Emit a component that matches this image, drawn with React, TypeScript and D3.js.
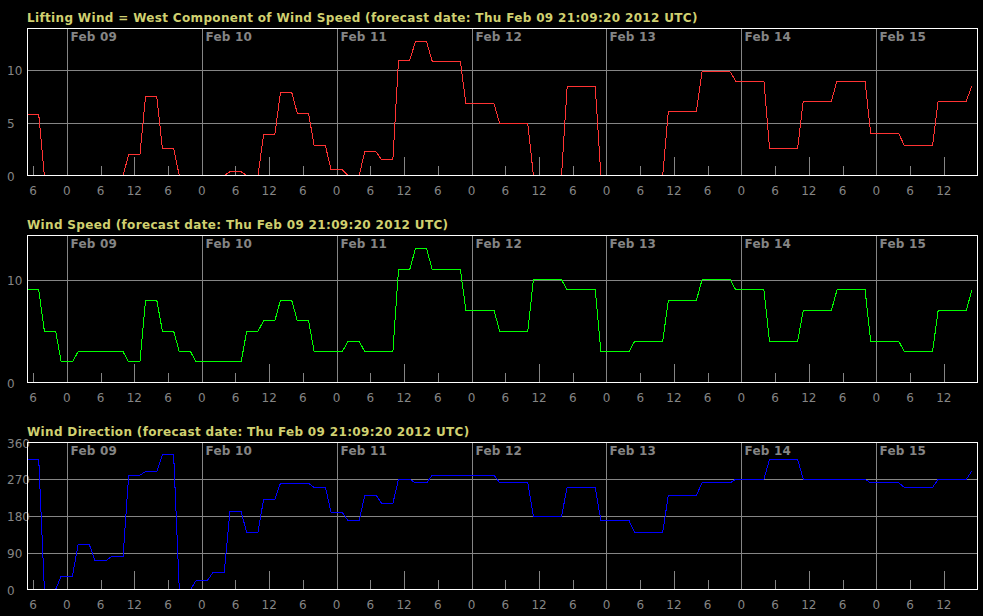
import { useEffect } from "react";
import * as d3 from "d3";

const forecastDate = "Thu Feb 09 21:09:20 2012 UTC";
const startTime = new Date(Date.UTC(2012, 1, 8, 17));
const endTime = new Date(Date.UTC(2012, 1, 15, 18));
const stepHours = 3;

// 3-hourly forecast values, first one at Feb 08 17:00 UTC
const liftWind = [
  5.8, 0, 0, 0, 0, 0, 2, 7.5, 2.55, 0, 0, 0, 0.35, 0, 3.9, 7.9, 5.9, 2.83, 0.54,
  0, 2.26, 1.5, 10.95, 12.7, 10.86, 10.86, 6.8, 6.8, 4.94, 4.94, 0, 0, 8.44,
  8.44, 0, 0, 0, 0, 6.08, 6.08, 9.84, 9.84, 8.98, 8.98, 2.58, 2.58, 7.07, 7.07,
  8.98, 8.98, 3.98, 3.98, 2.83, 2.83, 7.07, 7.07, 8.5,
];
const windSpeed = [
  9, 5, 2, 3, 3, 3, 2, 8, 5, 3, 2, 2, 2, 5, 6, 8, 6, 3, 3, 4, 3, 3, 11, 13, 11,
  11, 7, 7, 5, 5, 10, 10, 9, 9, 3, 3, 4, 4, 8, 8, 10, 10, 9, 9, 4, 4, 7, 7, 9, 9,
  4, 4, 3, 3, 7, 7, 9,
];
const windDirection = [
  319, 0, 33, 110, 71, 81, 280, 289, 330, 0, 22, 42, 190, 140, 221, 260, 260,
  250, 189, 169, 231, 211, 270, 261, 280, 280, 280, 280, 261, 261, 179, 179,
  250, 250, 169, 169, 140, 140, 231, 231, 261, 261, 270, 270, 319, 319, 270,
  270, 270, 270, 261, 261, 250, 250, 270, 270, 290,
];

const liftTicks = [0, 5, 10];
const speedTicks = [0, 10];
const directionTicks = [0, 90, 180, 270, 360];

const W = 983;
const H = 616;
const left = 27.5;
const right = 977.5;
const plotH = 147;
const font = "DejaVu Sans, sans-serif";
const gray = "#858585";

const x = d3.scaleUtc().domain([startTime, endTime]).range([left, right]);
const sixHours = d3.utcHour.every(6)!.range(startTime, endTime);
const midnights = d3.utcDay.range(startTime, endTime);
const fmtDay = d3.utcFormat("%b %d");

const Panel = ({ top, title, values, color, ticks, yMax }: any) => {
  const bottom = top + plotH;
  const y = d3.scaleLinear().domain([0, yMax]).range([bottom, top]);
  const pts: [Date, number][] = [];
  values.forEach((v: number, i: number) => {
    const t0 = d3.utcHour.offset(startTime, i * stepHours);
    pts.push([t0, v]);
    if (i < values.length - 1) pts.push([d3.utcHour.offset(t0, stepHours - 1), v]);
  });
  const line = d3
    .line<[Date, number]>()
    .x((d) => x(d[0]))
    .y((d) => y(d[1]));
  const px = (d: Date) => Math.round(x(d)) + 0.5;

  return (
    <g>
      <text x={27} y={top - 6.5} fill="#d0d070" fontFamily={font} fontWeight="bold" fontSize={12} letterSpacing={0.34}>
        {title}
      </text>
      {ticks
        .filter((t: number) => t > 0 && t < yMax)
        .map((t: number) => (
          <line key={t} x1={left} x2={right} y1={Math.round(y(t)) + 0.5} y2={Math.round(y(t)) + 0.5} stroke={gray} shapeRendering="crispEdges" />
        ))}
      {ticks.map((t: number) => (
        <text key={"l" + t} x={7} y={y(t) + 5} fill={gray} fontFamily={font} fontSize={12}>
          {t}
        </text>
      ))}
      {midnights.map((d) => (
        <g key={+d}>
          <line x1={px(d)} x2={px(d)} y1={top} y2={bottom} stroke={gray} shapeRendering="crispEdges" />
          <text x={px(d) + 3} y={top + 12.5} fill={gray} fontFamily={font} fontWeight="bold" fontSize={12} letterSpacing={0.2}>
            {fmtDay(d)}
          </text>
        </g>
      ))}
      {sixHours.map((d) => {
        const h = d.getUTCHours();
        const len = h === 0 ? 0 : h === 12 ? 19 : 10;
        return (
          <g key={"t" + +d}>
            {len > 0 && (
              <line x1={px(d)} x2={px(d)} y1={bottom} y2={bottom - len} stroke={gray} shapeRendering="crispEdges" />
            )}
            <text x={x(d)} y={bottom + 19.5} fill={gray} fontFamily={font} fontSize={12} textAnchor="middle">
              {h === 12 ? 12 : h % 12}
            </text>
          </g>
        );
      })}
      <path d={line(pts)!} fill="none" stroke={color} strokeWidth={1} shapeRendering="crispEdges" />
      <rect x={left} y={top} width={right - left} height={plotH} fill="none" stroke="#ffffff" shapeRendering="crispEdges" />
    </g>
  );
};

export default function App() {
  useEffect(() => {
    document.body.style.margin = "0";
    document.body.style.background = "#000";
  }, []);

  return (
    <svg width={W} height={H} style={{ display: "block", position: "absolute", left: 0, top: 0 }}>
      <rect width={W} height={H} fill="#000" />
      <Panel
        top={28.5}
        title={`Lifting Wind = West Component of Wind Speed (forecast date: ${forecastDate})`}
        values={liftWind}
        color="#ff3333"
        ticks={liftTicks}
        yMax={d3.max(liftWind)! * 1.1}
      />
      <Panel
        top={235.5}
        title={`Wind Speed (forecast date: ${forecastDate})`}
        values={windSpeed}
        color="#00ff00"
        ticks={speedTicks}
        yMax={d3.max(windSpeed)! * 1.1}
      />
      <Panel
        top={442.5}
        title={`Wind Direction (forecast date: ${forecastDate})`}
        values={windDirection}
        color="#0000ff"
        ticks={directionTicks}
        yMax={360}
      />
    </svg>
  );
}
